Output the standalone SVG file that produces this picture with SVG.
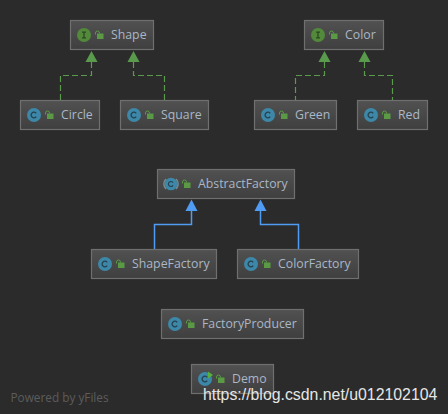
<svg xmlns="http://www.w3.org/2000/svg" xmlns:xlink="http://www.w3.org/1999/xlink" width="448" height="414" viewBox="0 0 448 414">
<style>
.box{fill:url(#nodeFill);stroke:#6f6f6f;stroke-width:1.2}
.lbl{font-family:"Open Sans",sans-serif;font-size:12.3px;fill:#a9b7c6}
.impl{fill:none;stroke:#5a9a4c;stroke-width:1.2;stroke-dasharray:6 3}
.ext{fill:none;stroke:#4f9cf2;stroke-width:1.5}
.ah-g{fill:#5a9a4c}
.ah-b{fill:#4f9cf2}
</style>
<defs>
<linearGradient id="nodeFill" x1="0" y1="0" x2="0" y2="1">
<stop offset="0" stop-color="#515151"/><stop offset="1" stop-color="#3f3f3f"/>
</linearGradient>
<g id="lock">
<rect x="1" y="-1.500" width="6.500" height="5.500" fill="#5a9a45"/>
<path d="M-0.500 -0.500V-2a2 2 0 0 1 4 0V-1.500" fill="none" stroke="#5a9a45" stroke-width="1"/>
</g>
<g id="cIcon">
<circle r="7" fill="#3d87a8"/>
<path d="M2.200 -1.600A2.800 2.800 0 1 0 2.200 1.600" fill="none" stroke="#26414e" stroke-width="1.300"/>
</g>
<g id="iIcon">
<circle r="7" fill="#52893b"/>
<path d="M-2 -2.800H2M-2 2.800H2M0 -2.800V2.800" fill="none" stroke="#2b4a20" stroke-width="1.300"/>
</g>
</defs>
<rect width="448" height="414" fill="#2b2b2b"/>
<g id="connectors">
<path class="impl" d="M91.500 62V75.500H60.500V100"/>
<path class="ah-g" d="M91.500 51L97.500 62H85.500Z"/>
<path class="impl" d="M133.500 62V75.500H164.500V100"/>
<path class="ah-g" d="M133.500 51L139.500 62H127.500Z"/>
<path class="impl" d="M324.500 62V75.500H295.500V100"/>
<path class="ah-g" d="M324.500 51L330.500 62H318.500Z"/>
<path class="impl" d="M364.500 62V75.500H392.500V100"/>
<path class="ah-g" d="M364.500 51L370.500 62H358.500Z"/>
<path class="ext" d="M191.500 211V224.500H154.500V249"/>
<path class="ah-b" d="M191.500 199.500L197.500 211H185.500Z"/>
<path class="ext" d="M260.500 211V224.500H298.500V249"/>
<path class="ah-b" d="M260.500 199.500L266.500 211H254.500Z"/>
</g>
<g id="shape"><rect class="box" x="70.500" y="20.500" width="83" height="29"/><use xlink:href="#iIcon" href="#iIcon" x="84" y="35"/><use xlink:href="#lock" href="#lock" x="96" y="35"/><text class="lbl" x="111" y="39">Shape</text></g>
<g id="circle"><rect class="box" x="20.500" y="100.500" width="79" height="29"/><use xlink:href="#cIcon" href="#cIcon" x="34" y="115"/><use xlink:href="#lock" href="#lock" x="46" y="115"/><text class="lbl" x="61" y="119">Circle</text></g>
<g id="square"><rect class="box" x="120.500" y="100.500" width="88" height="29"/><use xlink:href="#cIcon" href="#cIcon" x="134" y="115"/><use xlink:href="#lock" href="#lock" x="146" y="115"/><text class="lbl" x="161" y="119">Square</text></g>
<g id="color"><rect class="box" x="304.500" y="20.500" width="79" height="29"/><use xlink:href="#iIcon" href="#iIcon" x="318" y="35"/><use xlink:href="#lock" href="#lock" x="330" y="35"/><text class="lbl" x="345" y="39">Color</text></g>
<g id="green"><rect class="box" x="254.500" y="100.500" width="82" height="29"/><use xlink:href="#cIcon" href="#cIcon" x="268" y="115"/><use xlink:href="#lock" href="#lock" x="280" y="115"/><text class="lbl" x="295" y="119">Green</text></g>
<g id="red"><rect class="box" x="357.500" y="100.500" width="70" height="29"/><use xlink:href="#cIcon" href="#cIcon" x="371" y="115"/><use xlink:href="#lock" href="#lock" x="383" y="115"/><text class="lbl" x="398" y="119">Red</text></g>
<g id="abstractFactory"><rect class="box" x="157.500" y="169.500" width="137" height="29"/><path d="M166 179a7 7 0 0 0 0 10M176 179a7 7 0 0 1 0 10" fill="none" stroke="#7a8a92" stroke-width="1.500"/><use xlink:href="#cIcon" href="#cIcon" x="171" y="184" transform="translate(17.100 18.400) scale(.9)"/><use xlink:href="#lock" href="#lock" x="183" y="184"/><text class="lbl" x="198" y="188">AbstractFactory</text></g>
<g id="shapeFactory"><rect class="box" x="91.500" y="249.500" width="125" height="29"/><use xlink:href="#cIcon" href="#cIcon" x="105" y="264"/><use xlink:href="#lock" href="#lock" x="117" y="264"/><text class="lbl" x="132" y="268">ShapeFactory</text></g>
<g id="colorFactory"><rect class="box" x="237.500" y="249.500" width="121" height="29"/><use xlink:href="#cIcon" href="#cIcon" x="251" y="264"/><use xlink:href="#lock" href="#lock" x="263" y="264"/><text class="lbl" x="278" y="268">ColorFactory</text></g>
<g id="factoryProducer"><rect class="box" x="161.500" y="309.500" width="142" height="29"/><use xlink:href="#cIcon" href="#cIcon" x="175" y="324"/><use xlink:href="#lock" href="#lock" x="187" y="324"/><text class="lbl" x="202" y="328">FactoryProducer</text></g>
<g id="demo"><rect class="box" x="191.500" y="364.500" width="82" height="29"/><use xlink:href="#cIcon" href="#cIcon" x="205" y="379"/><path d="M208 371.500L213 375L208 378.500Z" fill="#56b03a"/><use xlink:href="#lock" href="#lock" x="217" y="379"/><text class="lbl" x="232" y="383">Demo</text></g>
<text x="10.500" y="402" font-family="'Open Sans',sans-serif" font-size="11.800" fill="#5c5c5c">Powered by yFiles</text>
<text x="203" y="400" font-family="'Liberation Sans',sans-serif" font-size="15.850" fill="#e6e6e6">https://blog.csdn.net/u012102104</text>
</svg>
